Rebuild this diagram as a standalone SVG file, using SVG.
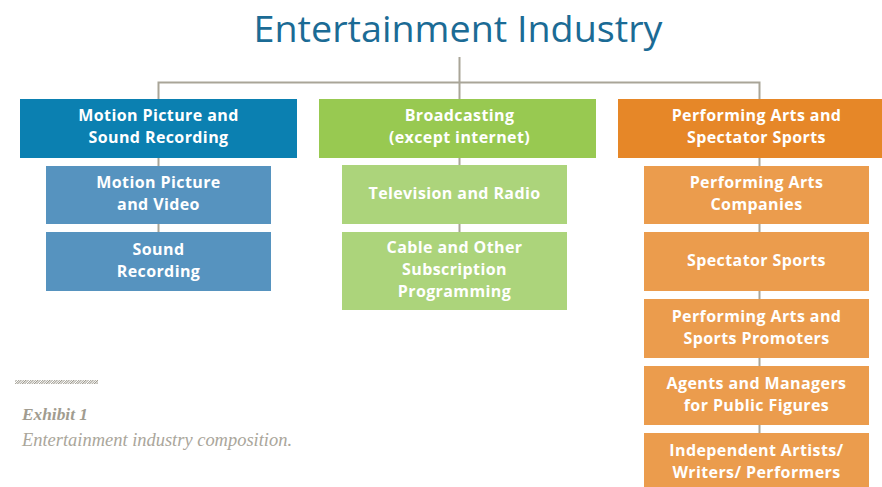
<svg xmlns="http://www.w3.org/2000/svg" width="882" height="487" viewBox="0 0 882 487">
<defs>
<style>
.t{font-family:"Open Sans","Liberation Sans",sans-serif;font-weight:700;font-size:16px;letter-spacing:0.4px;fill:#fff;text-anchor:middle}
.c{stroke:#a9a598;stroke-width:2;fill:none}
.b1{fill:#0b80b1}.s1{fill:#5693bf}
.b2{fill:#98c951}.s2{fill:#acd47b}
.b3{fill:#e68728}.s3{fill:#eb9c4d}
</style>
<pattern id="hatch" width="2.4" height="4" patternUnits="userSpaceOnUse" patternTransform="skewX(-45)">
<rect width="1.2" height="4" fill="#9f9b90"/>
</pattern>
</defs>
<rect width="882" height="487" fill="#fff"/>
<text x="458" y="42" text-anchor="middle" font-family="'Open Sans','Liberation Sans',sans-serif" font-size="37" fill="#1b6b95" textLength="409" lengthAdjust="spacingAndGlyphs">Entertainment Industry</text>
<g id="connectors">
<path class="c" d="M459.5 57V232M158.5 89V82.5H759.5V89M158.5 82V232M759.5 82V433"/>
</g>
<g id="motion-sound"><rect class="b1" x="20" y="99" width="277" height="59"/><text class="t" x="158.5" y="121">Motion Picture and</text><text class="t" x="158.5" y="143">Sound Recording</text></g>
<g id="motion-video"><rect class="s1" x="46" y="166" width="225" height="58"/><text class="t" x="158.5" y="188">Motion Picture</text><text class="t" x="158.5" y="210">and Video</text></g>
<g id="sound-recording"><rect class="s1" x="46" y="232" width="225" height="59"/><text class="t" x="158.5" y="255">Sound</text><text class="t" x="158.5" y="277">Recording</text></g>
<g id="broadcasting"><rect class="b2" x="319" y="99" width="277" height="59"/><text class="t" x="459.5" y="121">Broadcasting</text><text class="t" x="459.5" y="143">(except internet)</text></g>
<g id="tv-radio"><rect class="s2" x="342" y="165" width="225" height="59"/><text class="t" x="454.5" y="199">Television and Radio</text></g>
<g id="cable"><rect class="s2" x="342" y="232" width="225" height="78"/><text class="t" x="454.5" y="253">Cable and Other</text><text class="t" x="454.5" y="275">Subscription</text><text class="t" x="454.5" y="297">Programming</text></g>
<g id="performing-spectator"><rect class="b3" x="618" y="99" width="264" height="59"/><text class="t" x="756.5" y="121">Performing Arts and</text><text class="t" x="756.5" y="143">Spectator Sports</text></g>
<g id="pa-companies"><rect class="s3" x="644" y="166" width="225" height="58"/><text class="t" x="756.5" y="188">Performing Arts</text><text class="t" x="756.5" y="210">Companies</text></g>
<g id="spectator-sports"><rect class="s3" x="644" y="232" width="225" height="59"/><text class="t" x="756.5" y="266">Spectator Sports</text></g>
<g id="promoters"><rect class="s3" x="644" y="299" width="225" height="59"/><text class="t" x="756.5" y="322">Performing Arts and</text><text class="t" x="756.5" y="344">Sports Promoters</text></g>
<g id="agents"><rect class="s3" x="644" y="366" width="225" height="59"/><text class="t" x="756.5" y="389">Agents and Managers</text><text class="t" x="756.5" y="411">for Public Figures</text></g>
<g id="independent"><rect class="s3" x="644" y="433" width="225" height="58"/><text class="t" x="756.5" y="456">Independent Artists/</text><text class="t" x="756.5" y="478">Writers/ Performers</text></g>
<rect x="15" y="380" width="83" height="4" fill="url(#hatch)"/>
<text x="22" y="420" font-family="'Liberation Serif',serif" font-style="italic" font-weight="700" font-size="17" fill="#a19c90" textLength="66" lengthAdjust="spacingAndGlyphs">Exhibit 1</text>
<text x="22" y="446" font-family="'Liberation Serif',serif" font-style="italic" font-size="18" fill="#aaa69b" textLength="270" lengthAdjust="spacingAndGlyphs">Entertainment industry composition.</text>
</svg>
